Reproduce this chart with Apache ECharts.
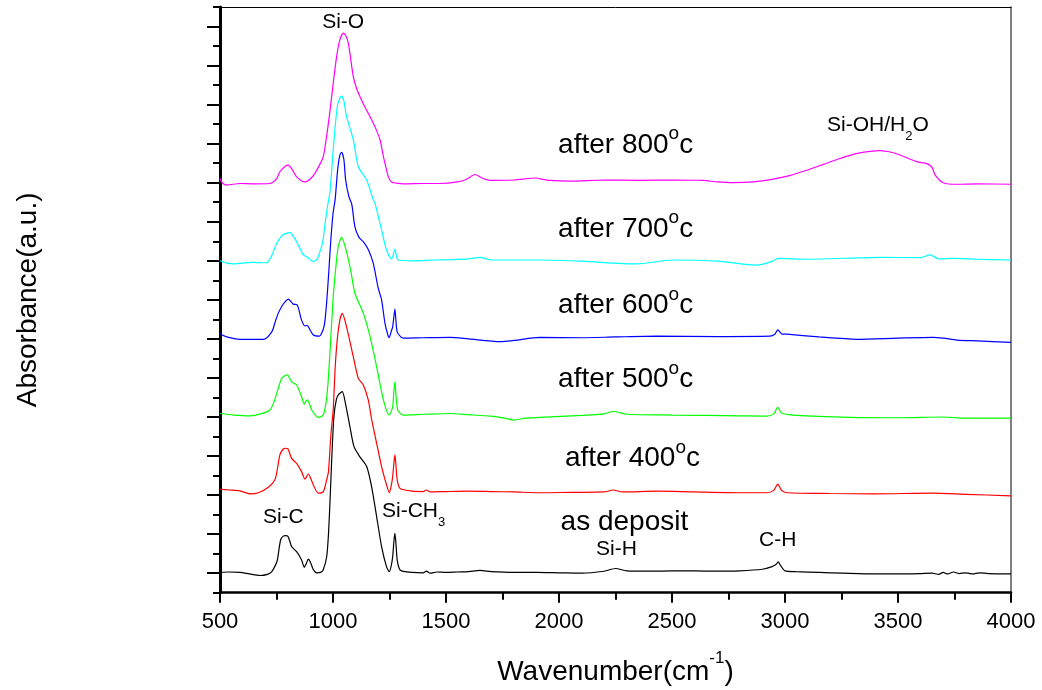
<!DOCTYPE html>
<html>
<head>
<meta charset="utf-8">
<script src="https://cdn.jsdelivr.net/npm/echarts@6/dist/echarts.min.js"></script>
<style>
  html, body { margin: 0; padding: 0; background: #ffffff; }
  #chart { width: 1042px; height: 690px; }
</style>
</head>
<body>
<div id="chart"></div>
<script>
// FTIR absorbance spectra, stacked with vertical offsets (arbitrary units).
// Each point is [wavenumber (cm^-1), offset absorbance].

const seriesNames = ['as deposit', 'after 400', 'after 500', 'after 600', 'after 700', 'after 800'];
const seriesColors = ['#000000', '#ff0000', '#00ff00', '#0000ff', '#00ffff', '#ff00ff'];

const asDeposit = [
  [500, 0.52], [540, 0.53], [588, 0.52], [630, 0.48], [677, 0.44], [710, 0.47], [729, 0.54],
  [745, 0.70], [754, 0.84], [768, 1.35], [780, 1.45], [790, 1.46], [800, 1.45], [810, 1.30],
  [817, 1.18], [839, 1.05], [861, 0.84], [873, 0.65], [882, 0.75], [891, 0.86], [900, 0.78],
  [913, 0.59], [928, 0.51], [945, 0.52], [957, 0.59], [972, 0.92], [980, 1.5], [987, 2.37],
  [995, 3.5], [1004, 4.51], [1015, 4.95], [1025, 5.08], [1041, 5.15], [1055, 4.85], [1075, 4.25],
  [1093, 3.74], [1119, 3.48], [1149, 3.23], [1171, 2.71], [1193, 1.95], [1215, 1.18], [1237, 0.66],
  [1249, 0.54], [1258, 0.70], [1264, 0.92], [1270, 1.35], [1274, 1.52], [1278, 1.30], [1284, 0.84],
  [1293, 0.62], [1303, 0.56], [1350, 0.52], [1398, 0.51], [1414, 0.55], [1430, 0.50], [1460, 0.53],
  [1500, 0.52], [1550, 0.53], [1600, 0.54], [1650, 0.57], [1700, 0.54], [1800, 0.52], [1900, 0.52],
  [2000, 0.51], [2100, 0.50], [2200, 0.55], [2250, 0.62], [2300, 0.56], [2400, 0.55], [2500, 0.56],
  [2600, 0.56], [2700, 0.55], [2800, 0.56], [2900, 0.60], [2940, 0.66], [2960, 0.72], [2970, 0.79],
  [2980, 0.70], [3000, 0.56], [3050, 0.54], [3150, 0.52], [3257, 0.50], [3400, 0.48], [3510, 0.48],
  [3600, 0.49], [3650, 0.50], [3680, 0.47], [3700, 0.52], [3720, 0.48], [3745, 0.53], [3770, 0.49],
  [3800, 0.51], [3830, 0.48], [3860, 0.51], [3900, 0.49], [4000, 0.48]
];

const after400 = [
  [500, 2.65], [540, 2.63], [588, 2.61], [633, 2.53], [670, 2.56], [714, 2.70], [743, 2.89],
  [755, 3.2], [765, 3.53], [780, 3.68], [790, 3.70], [800, 3.69], [817, 3.44], [839, 3.31],
  [861, 3.10], [876, 2.91], [891, 3.04], [902, 2.92], [913, 2.76], [935, 2.55], [957, 2.59],
  [972, 2.89], [980, 3.1], [990, 4.0], [1001, 4.7], [1010, 5.8], [1020, 6.55], [1031, 7.0],
  [1041, 7.155], [1060, 6.81], [1090, 6.04], [1112, 5.49], [1134, 5.32], [1156, 4.94], [1171, 4.44],
  [1193, 3.83], [1215, 3.23], [1237, 2.76], [1249, 2.56], [1258, 2.75], [1264, 2.97], [1270, 3.35],
  [1274, 3.53], [1278, 3.3], [1284, 2.89], [1293, 2.70], [1303, 2.65], [1350, 2.60], [1398, 2.59],
  [1414, 2.63], [1430, 2.58], [1500, 2.59], [1600, 2.60], [1700, 2.59], [1800, 2.58], [1916, 2.56],
  [2050, 2.57], [2200, 2.58], [2240, 2.63], [2280, 2.58], [2432, 2.60], [2600, 2.58], [2800, 2.56],
  [2919, 2.56], [2950, 2.62], [2968, 2.78], [2985, 2.62], [3008, 2.56], [3200, 2.54], [3390, 2.53],
  [3655, 2.55], [3800, 2.52], [4000, 2.48]
];

const after500 = [
  [500, 4.59], [560, 4.55], [633, 4.53], [680, 4.58], [721, 4.68], [740, 4.9], [751, 5.11],
  [773, 5.49], [790, 5.57], [798, 5.58], [817, 5.40], [839, 5.32], [861, 5.02], [872, 4.83],
  [880, 4.90], [887, 4.94], [906, 4.68], [935, 4.49], [957, 4.55], [970, 4.9], [979, 5.45],
  [990, 6.5], [1001, 7.58], [1012, 8.3], [1023, 8.86], [1038, 9.10], [1060, 8.73], [1080, 8.2],
  [1097, 7.67], [1134, 7.16], [1164, 6.56], [1193, 5.79], [1223, 4.94], [1249, 4.55], [1258, 4.65],
  [1264, 4.76], [1270, 5.2], [1274, 5.40], [1278, 5.1], [1286, 4.68], [1300, 4.58], [1311, 4.55],
  [1400, 4.57], [1518, 4.59], [1600, 4.56], [1700, 4.52], [1760, 4.47], [1800, 4.42], [1850, 4.47],
  [1916, 4.49], [2100, 4.54], [2200, 4.58], [2240, 4.64], [2300, 4.57], [2500, 4.55], [2800, 4.53],
  [2919, 4.52], [2950, 4.58], [2968, 4.75], [2985, 4.60], [3035, 4.55], [3288, 4.49], [3500, 4.48],
  [3700, 4.50], [3800, 4.47], [4000, 4.47]
];

const after600 = [
  [500, 6.63], [530, 6.55], [588, 6.49], [692, 6.49], [729, 6.68], [745, 6.95], [758, 7.16],
  [775, 7.35], [788, 7.45], [802, 7.52], [815, 7.45], [824, 7.39], [842, 7.37], [861, 6.98],
  [876, 6.83], [884, 6.85], [891, 6.81], [913, 6.60], [939, 6.57], [960, 6.81], [970, 7.3],
  [979, 8.01], [990, 9.0], [1000, 9.7], [1010, 10.1], [1020, 10.8], [1030, 11.2], [1038, 11.28],
  [1048, 11.1], [1056, 10.57], [1070, 10.15], [1083, 9.95], [1097, 9.37], [1115, 9.1], [1134, 8.99],
  [1155, 8.8], [1178, 8.44], [1200, 7.8], [1215, 7.50], [1230, 6.9], [1245, 6.56], [1249, 6.54],
  [1258, 6.70], [1264, 6.81], [1270, 7.10], [1274, 7.26], [1278, 7.0], [1284, 6.68], [1300, 6.55],
  [1311, 6.52], [1400, 6.53], [1518, 6.54], [1600, 6.50], [1739, 6.43], [1800, 6.46], [1916, 6.54],
  [2100, 6.53], [2250, 6.55], [2432, 6.57], [2700, 6.56], [2933, 6.57], [2955, 6.62], [2968, 6.73],
  [2985, 6.63], [3008, 6.62], [3150, 6.55], [3317, 6.49], [3500, 6.52], [3655, 6.54], [3700, 6.52],
  [3761, 6.47], [3850, 6.45], [4000, 6.41]
];

const after700 = [
  [500, 8.50], [530, 8.44], [559, 8.42], [640, 8.46], [706, 8.45], [730, 8.65], [751, 8.95],
  [775, 9.15], [788, 9.19], [810, 9.22], [825, 9.12], [839, 8.99], [855, 8.80], [869, 8.65],
  [887, 8.59], [913, 8.48], [930, 8.55], [942, 8.73], [955, 9.0], [965, 9.46], [976, 9.9],
  [987, 10.29], [1001, 11.34], [1020, 12.49], [1038, 12.72], [1048, 12.6], [1060, 12.19],
  [1090, 11.60], [1112, 10.91], [1149, 10.57], [1178, 10.06], [1186, 9.97], [1215, 9.29],
  [1237, 8.77], [1259, 8.55], [1266, 8.65], [1274, 8.80], [1281, 8.62], [1289, 8.52], [1350, 8.50],
  [1450, 8.52], [1518, 8.53], [1600, 8.55], [1650, 8.59], [1700, 8.52], [1800, 8.52], [1916, 8.52],
  [2100, 8.49], [2343, 8.42], [2505, 8.52], [2700, 8.49], [2875, 8.39], [2940, 8.48], [2970, 8.56],
  [3100, 8.54], [3420, 8.59], [3600, 8.58], [3642, 8.65], [3680, 8.55], [3745, 8.56], [3850, 8.54],
  [4000, 8.52]
];

const after800 = [
  [500, 10.61], [510, 10.50], [530, 10.44], [588, 10.48], [650, 10.47], [721, 10.48], [750, 10.6],
  [765, 10.78], [790, 10.93], [802, 10.95], [820, 10.83], [839, 10.65], [876, 10.52], [900, 10.6],
  [920, 10.74], [940, 10.95], [957, 11.17], [972, 11.7], [987, 12.36], [1000, 13.0], [1016, 13.73],
  [1030, 14.15], [1046, 14.33], [1058, 14.25], [1068, 14.07], [1080, 13.6], [1090, 13.21],
  [1105, 12.9], [1119, 12.71], [1140, 12.45], [1164, 12.19], [1186, 11.93], [1208, 11.60],
  [1223, 11.17], [1245, 10.65], [1259, 10.52], [1280, 10.49], [1311, 10.47], [1400, 10.48],
  [1473, 10.48], [1550, 10.52], [1591, 10.59], [1628, 10.71], [1660, 10.62], [1695, 10.56],
  [1800, 10.57], [1900, 10.62], [1916, 10.60], [1960, 10.56], [2049, 10.54], [2200, 10.57],
  [2358, 10.56], [2500, 10.57], [2638, 10.56], [2700, 10.52], [2770, 10.50], [2860, 10.52],
  [2947, 10.59], [3020, 10.68], [3096, 10.82], [3170, 10.97], [3243, 11.12], [3320, 11.25],
  [3420, 11.32], [3470, 11.28], [3509, 11.21], [3583, 11.04], [3627, 10.99], [3650, 10.90],
  [3664, 10.70], [3700, 10.50], [3761, 10.46], [3850, 10.47], [4000, 10.46]
];

const spectra = [asDeposit, after400, after500, after600, after700, after800];

// Text pieces: [text, role]; role 'sup' / 'sub' marks raised / lowered characters.
const curveLabels = [
  { parts: [['after 800', 'n'], ['o', 'sup'], ['c', 'n']], at: [1996, 11.46] },
  { parts: [['after 700', 'n'], ['o', 'sup'], ['c', 'n']], at: [1996, 9.32] },
  { parts: [['after 600', 'n'], ['o', 'sup'], ['c', 'n']], at: [1996, 7.36] },
  { parts: [['after 500', 'n'], ['o', 'sup'], ['c', 'n']], at: [1996, 5.46] },
  { parts: [['after 400', 'n'], ['o', 'sup'], ['c', 'n']], at: [2026, 3.43] },
  { parts: [['as deposit', 'n']], at: [2007, 1.81] }
];
const bandLabels = [
  { parts: [['Si-O', 'n']], at: [1045, 14.60], center: true },
  { parts: [['Si-OH/H', 'n'], ['2', 'sub'], ['O', 'n']], at: [3186, 11.96] },
  { parts: [['Si-C', 'n']], at: [690, 1.93] },
  { parts: [['Si-CH', 'n'], ['3', 'sub']], at: [1217, 2.08] },
  { parts: [['Si-H', 'n']], at: [2164, 1.11] },
  { parts: [['C-H', 'n']], at: [2885, 1.34] }
];

const FONT = '"Liberation Sans", Arial, Helvetica, sans-serif';

const chart = echarts.init(document.getElementById('chart'), null, { renderer: 'canvas' });

chart.setOption({
  animation: false,
  backgroundColor: '#ffffff',
  grid: { left: 220, right: 31, top: 7, bottom: 97.3, show: false },
  xAxis: [{
    type: 'value', min: 500, max: 4000, interval: 500,
    axisLine: { show: true, onZero: false, lineStyle: { color: '#000', width: 2.5 } },
    axisTick: { show: true, inside: false, length: 10, lineStyle: { color: '#000', width: 2 } },
    minorTick: { show: true, splitNumber: 2, length: 7, lineStyle: { color: '#000', width: 2 } },
    axisLabel: { color: '#000', fontSize: 22, fontFamily: FONT, margin: 18,
                 formatter: v => String(v) },
    splitLine: { show: false }
  }, {
    type: 'value', min: 500, max: 4000, position: 'top',
    axisLine: { show: true, onZero: false, lineStyle: { color: '#000', width: 1 } },
    axisTick: { show: false }, axisLabel: { show: false }, splitLine: { show: false }
  }],
  yAxis: [{
    type: 'value', min: 0, max: 15, interval: 1,
    axisLine: { show: true, onZero: false, lineStyle: { color: '#000', width: 3 } },
    axisTick: { show: true, inside: false, length: 7, lineStyle: { color: '#000', width: 2 } },
    minorTick: { show: true, splitNumber: 2, length: 13, lineStyle: { color: '#000', width: 2 } },
    axisLabel: { show: false },
    splitLine: { show: false }
  }, {
    type: 'value', min: 0, max: 15, position: 'right',
    axisLine: { show: true, onZero: false, lineStyle: { color: '#555', width: 1.5 } },
    axisTick: { show: false }, axisLabel: { show: false }, splitLine: { show: false }
  }],
  series: spectra.map((data, i) => ({
    name: seriesNames[i],
    type: 'line',
    data: data,
    xAxisIndex: 0,
    yAxisIndex: 0,
    showSymbol: false,
    smooth: 0.25,
    lineStyle: { color: seriesColors[i], width: 1.2 },
    z: 2 + i
  }))
});

// Lay out text runs with raised / lowered characters using canvas metrics.
const measureCtx = document.createElement('canvas').getContext('2d');
function widthOf(str, size) {
  measureCtx.font = size + 'px ' + FONT;
  return measureCtx.measureText(str).width;
}

function runElements(parts, x, y, sizes, center) {
  const pieces = parts.map(([text, role]) => {
    const s = sizes[role];
    return { text, size: s.size, dy: s.dy, w: widthOf(text, s.size) };
  });
  const total = pieces.reduce((a, p) => a + p.w, 0);
  let cx = center ? x - total / 2 : x;
  return pieces.map(p => {
    const el = {
      type: 'text', x: cx, y: y + p.dy, z: 100,
      style: { text: p.text, fontSize: p.size, fontFamily: FONT, fill: '#000',
               align: 'left', verticalAlign: 'middle' }
    };
    cx += p.w;
    return el;
  });
}

const curveSizes = { n: { size: 28, dy: 0 }, sup: { size: 19, dy: -11 }, sub: { size: 14, dy: 10 } };
const bandSizes = { n: { size: 21, dy: 0 }, sup: { size: 14, dy: -9 }, sub: { size: 13, dy: 11 } };

const graphics = [];
curveLabels.forEach(l => {
  const [px, py] = chart.convertToPixel({ gridIndex: 0 }, l.at);
  graphics.push(...runElements(l.parts, px, py, curveSizes, false));
});
bandLabels.forEach(l => {
  const [px, py] = chart.convertToPixel({ gridIndex: 0 }, l.at);
  graphics.push(...runElements(l.parts, px, py, bandSizes, !!l.center));
});

// Axis titles
const gridRect = { left: 220, right: 1011, top: 7, bottom: 592.7 };
graphics.push(...runElements(
  [['Wavenumber(cm', 'n'], ['-1', 'sup'], [')', 'n']],
  (gridRect.left + gridRect.right) / 2, 672,
  { n: { size: 28, dy: 0 }, sup: { size: 17, dy: -14 } }, true));
graphics.push({
  type: 'text', x: 28, y: (gridRect.top + gridRect.bottom) / 2, rotation: Math.PI / 2, z: 100,
  style: { text: 'Absorbance(a.u.)', fontSize: 28, fontFamily: FONT, fill: '#000',
           align: 'center', verticalAlign: 'middle' }
});

chart.setOption({ graphic: graphics });
</script>
</body>
</html>
